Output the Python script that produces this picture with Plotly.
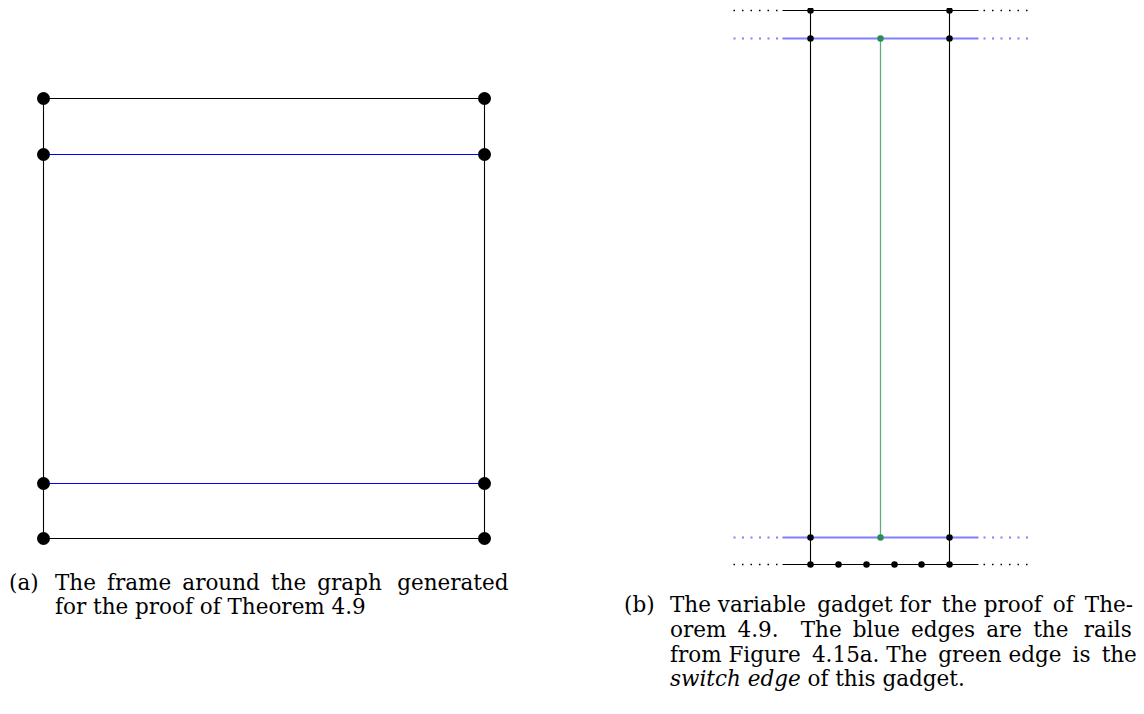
import plotly.graph_objects as go

# ---- Panel (a): frame (pixel-like diagram coordinates) ----
frame_x = [43, 484]
frame_y_black = [98, 538]
frame_y_blue = [154, 483]

# ---- Panel (b): variable gadget ----
gad_x = [810, 949]
gad_switch_x = 880
gad_rail_ext = [782, 978]
gad_dot_left = [733, 778]
gad_dot_right = [983, 1028]
gad_y_black = [10, 564]
gad_y_blue = [38, 537]
gad_bottom_nodes_x = [810, 838, 866, 894, 921, 949]

label_a = "(a)"
caption_a = ["The frame around the graph generated", "for the proof of Theorem 4.9"]
label_b = "(b)"
caption_b = ["The variable gadget for the proof of The-",
             "orem 4.9.  The blue edges are the rails",
             "from Figure 4.15a. The green edge is the",
             "<i>switch edge</i> of this gadget."]

BLACK = "#000000"
BLUE_A = "#0000ff"
BLUE_B = "#8080ff"
GREEN_L = "#5cae7a"
GREEN_D = "#2e8b57"

fig = go.Figure()

def seg(x, y, color, width=1.1, dash="solid"):
    fig.add_trace(go.Scatter(x=x, y=y, mode="lines", line=dict(color=color, width=width, dash=dash),
                             hoverinfo="skip", showlegend=False))

def dots(x, y, color, size):
    fig.add_trace(go.Scatter(x=x, y=y, mode="markers", marker=dict(color=color, size=size, line=dict(width=0)),
                             hoverinfo="skip", showlegend=False))

# Panel (a)
for yy in frame_y_black:
    seg(frame_x, [yy, yy], BLACK)
for yy in frame_y_blue:
    seg(frame_x, [yy, yy], BLUE_A, 1.2)
for xx in frame_x:
    seg([xx, xx], [frame_y_black[0], frame_y_black[1]], BLACK)
ax, ay = [], []
for xx in frame_x:
    for yy in frame_y_black + frame_y_blue:
        ax.append(xx); ay.append(yy)
dots(ax, ay, BLACK, 13)

# Panel (b)
for yy in gad_y_black:
    seg(gad_rail_ext, [yy, yy], BLACK, 1.1)
    seg(gad_dot_left, [yy, yy], BLACK, 1.4, "1.5px,7px")
    seg(gad_dot_right, [yy, yy], BLACK, 1.4, "1.5px,7px")
for yy in gad_y_blue:
    seg(gad_rail_ext, [yy, yy], BLUE_B, 2.0)
    seg(gad_dot_left, [yy, yy], BLUE_B, 2.0, "2px,6.5px")
    seg(gad_dot_right, [yy, yy], BLUE_B, 2.0, "2px,6.5px")
for xx in gad_x:
    seg([xx, xx], [gad_y_black[0], gad_y_black[1]], BLACK, 1.1)
seg([gad_switch_x, gad_switch_x], gad_y_blue, GREEN_L, 1.3)

bx, by = [], []
for xx in gad_x:
    for yy in [gad_y_black[0]] + gad_y_blue:
        bx.append(xx); by.append(yy)
for xx in gad_bottom_nodes_x:
    bx.append(xx); by.append(gad_y_black[1])
dots(bx, by, BLACK, 6.5)
dots([gad_switch_x, gad_switch_x], gad_y_blue, GREEN_D, 6.5)

# Captions: widen word gaps with thin spaces, spread evenly, to mimic TeX justification
def spaced(t, extra):
    words = t.split(" ")
    gaps = len(words) - 1
    out = words[0]
    for i, w in enumerate(words[1:]):
        k = (i + 1) * extra // gaps - i * extra // gaps
        out += " " + "\u2009" * k + w
    return out

FONT = dict(family="DejaVu Serif", size=21.5, color="#000000")

def text(x, y, t, shift=-2):
    fig.add_annotation(x=x, y=y, text=t, showarrow=False, xanchor="left", yanchor="middle",
                       font=FONT, xshift=shift)

# (a)
text(8, 582, label_a, -2)
cap_a_pos = [(55, 582), (55, 606)]
cap_a_extra = [6, 0]
for (x, y), t, e in zip(cap_a_pos, caption_a, cap_a_extra):
    text(x, y, spaced(t, e), -3)

# (b)
text(623, 604, label_b)
cap_b_pos = [(670, 604), (670, 629), (670, 654), (670, 678)]
cap_b_extra = [4, 9, 4, 0]
for (x, y), t, e in zip(cap_b_pos, caption_b, cap_b_extra):
    text(x, y, spaced(t, e), -3)

# page body has an 8px margin; shift the axes so diagram coordinates equal window pixels
# (half-pixel offset keeps 1px strokes crisp)
fig.update_layout(
    width=1136, height=706, margin=dict(l=0, r=0, t=0, b=0),
    paper_bgcolor="white", plot_bgcolor="white",
    xaxis=dict(range=[7.5, 1143.5], visible=False, fixedrange=True),
    yaxis=dict(range=[713.5, 7.5], visible=False, fixedrange=True),
)
fig.write_html("out.html")
